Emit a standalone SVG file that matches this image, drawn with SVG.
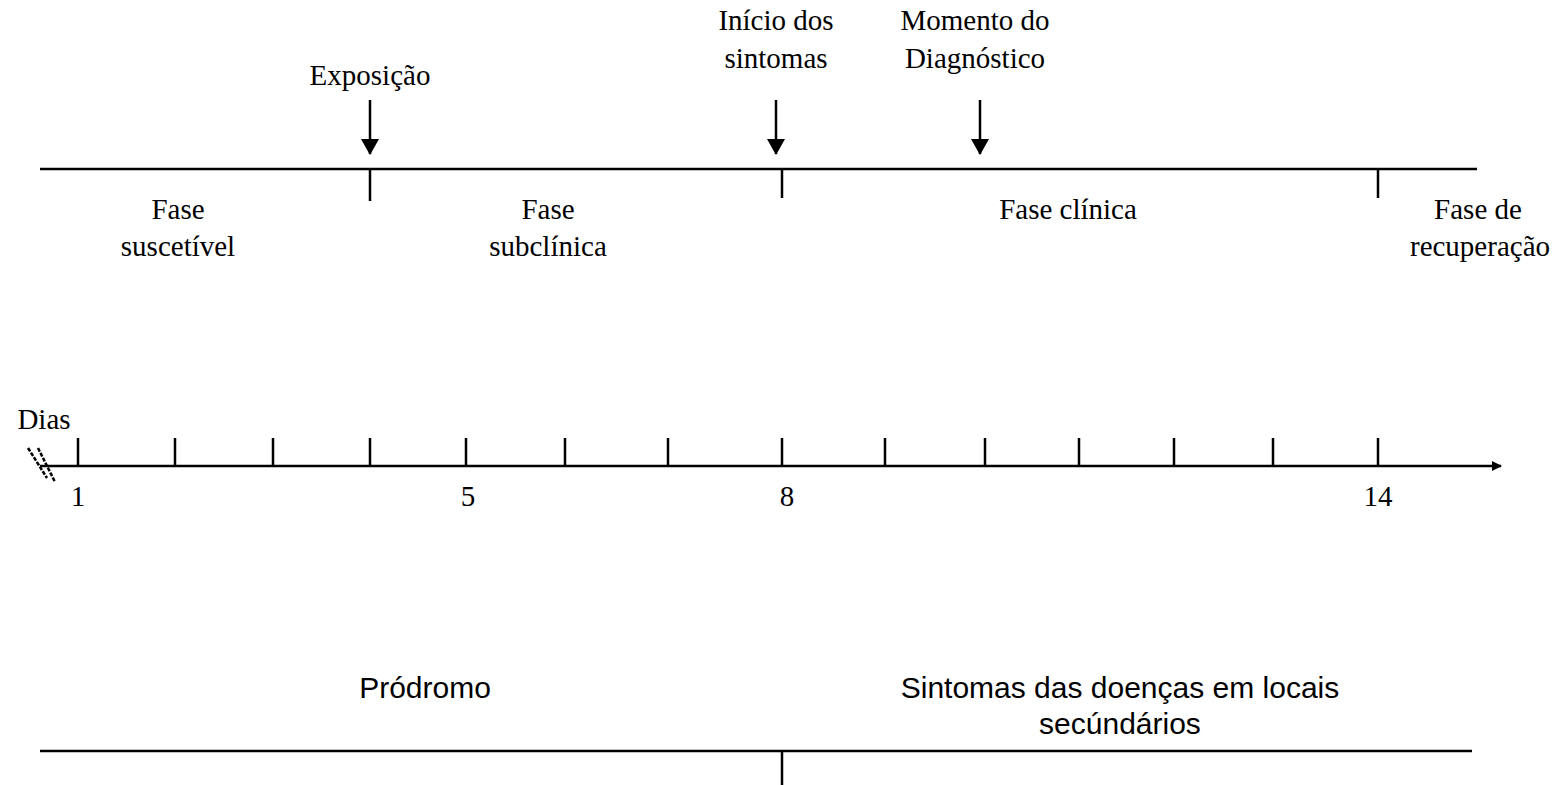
<svg xmlns="http://www.w3.org/2000/svg" width="1556" height="785" viewBox="0 0 1556 785">
<style>
.ln{stroke:#000;stroke-width:2.5;fill:none}
.t{font-family:"Liberation Serif",serif;font-size:29px;fill:#000;text-anchor:middle}
.s{font-family:"Liberation Sans",sans-serif;font-size:30px;fill:#000;text-anchor:middle}
</style>
<defs>
<marker id="ah" markerWidth="10" markerHeight="10" refX="9" refY="5" orient="auto" markerUnits="userSpaceOnUse" viewBox="0 0 10 10">
<path d="M0,0 L10,5 L0,10 z" fill="#000"/>
</marker>
<marker id="ah2" markerWidth="16" markerHeight="18" refX="15" refY="9" orient="auto" markerUnits="userSpaceOnUse" viewBox="0 0 16 18">
<path d="M0,0 L16,9 L0,18 z" fill="#000"/>
</marker>
</defs>
<rect width="1556" height="785" fill="#fff"/>
<g id="connectors">
<line class="ln" x1="40" y1="169" x2="1477" y2="169"/>
<line class="ln" x1="370" y1="169" x2="370" y2="201"/>
<line class="ln" x1="782" y1="169" x2="782" y2="198"/>
<line class="ln" x1="1378" y1="169" x2="1378" y2="198"/>
<line class="ln" x1="370" y1="100" x2="370" y2="154" marker-end="url(#ah2)"/>
<line class="ln" x1="776" y1="100" x2="776" y2="154" marker-end="url(#ah2)"/>
<line class="ln" x1="980" y1="100" x2="980" y2="154" marker-end="url(#ah2)"/>
<line class="ln" x1="40" y1="466" x2="1501" y2="466" marker-end="url(#ah)"/>
<g class="ln">
<line x1="78" y1="438" x2="78" y2="466"/>
<line x1="175" y1="438" x2="175" y2="466"/>
<line x1="273" y1="438" x2="273" y2="466"/>
<line x1="370" y1="438" x2="370" y2="466"/>
<line x1="466" y1="438" x2="466" y2="466"/>
<line x1="565" y1="438" x2="565" y2="466"/>
<line x1="668" y1="438" x2="668" y2="466"/>
<line x1="782" y1="438" x2="782" y2="466"/>
<line x1="885" y1="438" x2="885" y2="466"/>
<line x1="985" y1="438" x2="985" y2="466"/>
<line x1="1079" y1="438" x2="1079" y2="466"/>
<line x1="1174" y1="438" x2="1174" y2="466"/>
<line x1="1273" y1="438" x2="1273" y2="466"/>
<line x1="1378" y1="438" x2="1378" y2="466"/>
</g>
<g stroke="#000" stroke-width="2.5" stroke-dasharray="4,1.5">
<line x1="28" y1="448" x2="47" y2="478"/>
<line x1="38" y1="448" x2="55" y2="482"/>
</g>
<line class="ln" x1="40" y1="751" x2="1472" y2="751"/>
<line class="ln" x1="782" y1="751" x2="782" y2="785"/>
</g>
<g id="labels-top">
<text class="t" x="370" y="85">Exposição</text>
<text class="t" x="776" y="30">Início dos</text>
<text class="t" x="776" y="68">sintomas</text>
<text class="t" x="975" y="30">Momento do</text>
<text class="t" x="975" y="68">Diagnóstico</text>
</g>
<g id="phases">
<text class="t" x="178" y="219">Fase</text>
<text class="t" x="178" y="256">suscetível</text>
<text class="t" x="548" y="219">Fase</text>
<text class="t" x="548" y="256">subclínica</text>
<text class="t" x="1068" y="219">Fase clínica</text>
<text class="t" x="1478" y="219">Fase de</text>
<text class="t" x="1480" y="256">recuperação</text>
</g>
<g id="days">
<text class="t" x="44" y="429">Dias</text>
<text class="t" x="78" y="506">1</text>
<text class="t" x="468" y="506">5</text>
<text class="t" x="787" y="506">8</text>
<text class="t" x="1378" y="506">14</text>
</g>
<g id="bottom">
<text class="s" x="425" y="698">Pródromo</text>
<text class="s" x="1120" y="698">Sintomas das doenças em locais</text>
<text class="s" x="1120" y="734">secúndários</text>
</g>
</svg>
